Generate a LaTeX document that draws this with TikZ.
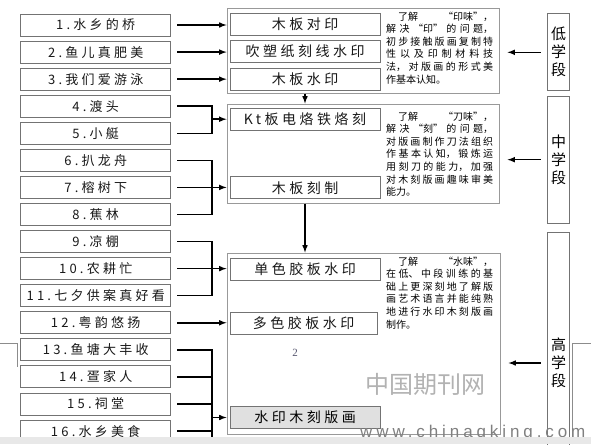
\documentclass[tikz,border=0pt]{standalone}
\usepackage{fontspec}
\setmainfont{Noto Sans CJK SC}
\newfontfamily\weit[LetterSpace=25]{Noto Sans CJK SC}
\newfontfamily\ziffer{Liberation Serif}
\newfontfamily\netz[LetterSpace=23]{Liberation Sans}
\usetikzlibrary{arrows}
\definecolor{ziffergrau}{RGB}{85,85,110}
\newcommand{\absatzschrift}{\XeTeXlinebreaklocale "zh"\XeTeXlinebreakskip=0pt plus 5pt\relax\fontsize{10}{12.6}\selectfont}

\begin{document}
\begin{tikzpicture}[x=1pt, y=-1pt, >=latex,
	thema/.style={draw=black!55, line width=0.9pt, minimum width=150pt, minimum height=22pt, inner sep=0pt, text=black!90, font=\weit\fontsize{13}{13}\selectfont},
	methode/.style={draw=black!55, line width=0.9pt, minimum width=150pt, minimum height=22pt, inner sep=0pt, text=black!90, font=\weit\fontsize{14}{14}\selectfont},
	kasten/.style={draw=black!40, line width=1pt, inner sep=0pt},
	stufe/.style={draw=black!55, line width=0.9pt, minimum width=21.6pt, inner sep=0pt, align=center, font=\fontsize{15}{18}\selectfont},
	notiz/.style={anchor=north west, inner sep=0pt, text width=107pt, align=justify, text=black, font=\absatzschrift},
	verbinder/.style={line width=1.5pt},
	pfeil/.style={->, line width=1.5pt}]
	% Hintergrund
	\fill[white] (0,0) rectangle (591,444);
	\useasboundingbox (0,0) rectangle (591,444);
	\clip (0,0) rectangle (591,444);
	% Themen links
	\foreach \name [count=\i] in {1.水乡的桥, 2.鱼儿真肥美, 3.我们爱游泳, 4.渡头, 5.小艇, 6.扒龙舟, 7.榕树下, 8.蕉林, 9.凉棚, 10.农耕忙, 11.七夕供案真好看, 12.粤韵悠扬, 13.鱼塘大丰收, 14.疍家人, 15.祠堂, 16.水乡美食}
		\node[thema] (t\i) at (95.7, {25+27.07*(\i-1)}) {\name};
	% Kaesten Mitte
	\node[kasten, minimum width=272pt, minimum height=84pt] (k1) at (363,51) {};
	\node[kasten, minimum width=272pt, minimum height=99pt] (k2) at (363,153.5) {};
	\node[kasten, minimum width=273pt, minimum height=181pt] (k3) at (363.5,343.5) {};
	% Techniken
	\node[methode] (m1) at (305,24.5) {木板对印};
	\node[methode] (m2) at (305,51.5) {吹塑纸刻线水印};
	\node[methode] (m3) at (305,79.2) {木板水印};
	\node[methode] (m4) at (305,119.2) {Kt板电烙铁烙刻};
	\node[methode] (m5) at (305,187.8) {木板刻制};
	\node[methode] (m6) at (305,269.1) {单色胶板水印};
	\node[methode, minimum width=147pt] (m7) at (303.5,323.3) {多色胶板水印};
	\node[methode, fill=black!12, text=black] (m8) at (305,417.5) {水印木刻版画};
	% Erlaeuterungen
	\node[notiz] (e1) at (386,11.5) {\noindent\hspace*{1.2em}了解\hfill“印味”，\linebreak
		解决“印”的问题，\linebreak 初步接触版画复制特\linebreak 性以及印制材料技\linebreak
		法，对版画的形式美\linebreak 作基本认知。};
	\node[notiz] (e2) at (386,111.5) {\noindent\hspace*{1.2em}了解\hfill“刀味”，\linebreak
		解决“刻”的问题，\linebreak 对版画制作刀法组织\linebreak 作基本认知，锻炼运\linebreak
		用刻刀的能力，加强\linebreak 对木刻版画趣味审美\linebreak 能力。};
	\node[notiz] (e3) at (386,256.5) {\noindent\hspace*{1.2em}了解\hfill“水味”，\linebreak
		在低、中段训练的基\linebreak 础上更深刻地了解版\linebreak 画艺术语言并能纯熟\linebreak
		地进行水印木刻版画\linebreak 制作。};
	% Stufen rechts
	\node[stufe, minimum height=76.7pt] (s1) at (558.5,52.3) {低\\学\\段};
	\node[stufe, minimum height=127.3pt] (s2) at (558.5,159.7) {中\\学\\段};
	\node[stufe, minimum height=262pt] (s3) at (558.5,363) {高\\学\\段};
	% Verbindungen links
	\coordinate (bus) at (212,0);
	\coordinate (unten) at (212,444);
	\foreach \i in {1,2,3} \draw[pfeil] ([xshift=6pt]t\i.east) -- (t\i -| k1.west);
	\draw[verbinder] ([xshift=6pt]t4.east) -| (t5 -| bus) -- ([xshift=6pt]t5.east);
	\draw[pfeil] (m4 -| bus) -- (m4 -| k2.west);
	\draw[verbinder] ([xshift=6pt]t6.east) -| (t8 -| bus) -- ([xshift=6pt]t8.east);
	\draw[pfeil] ([xshift=6pt]t7.east) -- (t7 -| k2.west);
	\draw[verbinder] ([xshift=6pt]t9.east) -| (t11 -| bus) -- ([xshift=6pt]t11.east);
	\draw[pfeil] ([xshift=6pt]t10.east) -- (t10 -| k3.west);
	\draw[pfeil] ([xshift=6pt]t12.east) -- (t12 -| k3.west);
	\draw[verbinder] ([xshift=6pt]t13.east) -| (unten);
	\foreach \i in {14,15,16} \draw[verbinder] ([xshift=6pt]t\i.east) -- (t\i -| bus);
	\draw[pfeil] (m8 -| bus) -- (m8 -| k3.west);
	% Pfeile zwischen den Kaesten
	\draw[pfeil] (m3 |- k1.south) -- (m3 |- k2.north);
	\draw[pfeil] (m5 |- k2.south) -- (m5 |- k3.north);
	% Pfeile rechts
	\foreach \i in {1,2,3} \draw[pfeil] ([xshift=-6.5pt]s\i.west) -- ([xshift=8pt]k\i.east |- s\i.west);
	% duenne Linien am Rand
	\draw[black!45, line width=0.7pt] (0,343) -- (17.5,343) -- (17.5,367);
	\draw[black!45, line width=0.7pt] (572.3,444) -- (572.3,343) -- (591,343);
	% Seitenzahl
	\node[font=\ziffer\fontsize{11}{11}\selectfont, text=ziffergrau] (nr) at (295,353) {2};
	% Wasserzeichen
	\node[font=\fontsize{24}{24}\selectfont, text=black!30] (wz) at (425,384) {中国期刊网};
	\node[anchor=base west, inner sep=0pt, font=\netz\fontsize{17}{17}\selectfont, text=black!50] (url) at (360,437.5) {www.chinaqking.com};
	% Balken unten
	\fill[black!9] (0,437) rectangle (591,444);
\end{tikzpicture}
\end{document}
